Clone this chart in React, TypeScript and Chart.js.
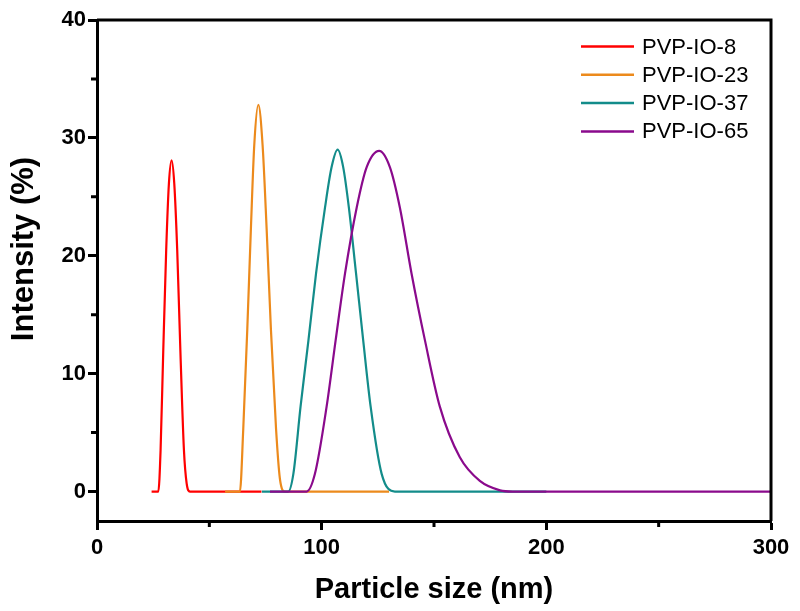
import React, { useEffect, useRef } from "react";
import { Chart, registerables } from "chart.js";

Chart.register(...registerables);

// Particle size (nm) and intensity (%)
const sizesIO8 = [24.3, 27.3, 28.3, 29.5, 30.8, 32.0, 33.2, 34.4, 35.7, 37.1, 38.7, 39.9, 41.4, 73.2];
const intensityIO8 = [0, 0, 3.5, 12.0, 20.5, 26.1, 28.1, 26.1, 20.5, 12.0, 3.5, 0.7, 0, 0];

const sizesIO23 = [57, 63.6, 65.1, 66.9, 68.5, 70.0, 71.8, 73.7, 75.5, 77.4, 79.7, 81.4, 83.7, 130];
const intensityIO23 = [0, 0, 5.3, 13.8, 22.3, 29.4, 32.8, 29.4, 22.3, 13.8, 5.3, 1.1, 0, 0];

const sizesIO37 = [73.4, 85.1, 87.4, 90.6, 94.1, 97.5, 101.5, 104.4, 107.1, 109.6, 112.1, 115.3, 118.5, 121.8, 126.7, 132.6, 200];
const intensityIO37 = [0, 0, 1.5, 7.2, 12.8, 18.5, 24.1, 27.5, 29.0, 27.5, 24.1, 18.5, 12.8, 7.2, 1.5, 0, 0];

const sizesIO65 = [77, 93.3, 97.0, 102.2, 106.2, 110.4, 115.6, 120.0, 125.6, 130.4, 134.8, 140.0, 146.0, 152.6, 161.5, 170.4, 179.4, 185, 300];
const intensityIO65 = [0, 0, 1.5, 7.2, 12.8, 18.5, 24.1, 27.5, 28.9, 27.5, 24.1, 18.5, 12.8, 7.2, 2.9, 0.9, 0.1, 0, 0];

const seriesLabels = ["PVP-IO-8", "PVP-IO-23", "PVP-IO-37", "PVP-IO-65"];
const seriesColors = ["#FF0000", "#EC8A1C", "#138C8A", "#8A0A8C"];

const xMajorTicks = [0, 100, 200, 300];
const xMinorTicks = [50, 150, 250];
const yMajorTicks = [0, 10, 20, 30, 40];
const yMinorTicks = [5, 15, 25, 35];

const xTitle = "Particle size (nm)";
const yTitle = "Intensity (%)";

const FONT = "'Liberation Sans', Arial, sans-serif";

const toPoints = (xs: number[], ys: number[]) => xs.map((x, i) => ({ x, y: ys[i] }));

const decorPlugin = {
  id: "decor",
  afterDraw(chart: any) {
    const { ctx, chartArea } = chart;
    const xs = chart.scales.x;
    const ys = chart.scales.y;
    ctx.save();
    ctx.strokeStyle = "#000";
    ctx.lineWidth = 3;
    // frame top and right
    ctx.beginPath();
    ctx.moveTo(chartArea.left, chartArea.top);
    ctx.lineTo(chartArea.right, chartArea.top);
    ctx.lineTo(chartArea.right, chartArea.bottom);
    ctx.stroke();
    // minor ticks
    ctx.beginPath();
    for (const v of xMinorTicks) {
      const px = xs.getPixelForValue(v);
      ctx.moveTo(px, chartArea.bottom);
      ctx.lineTo(px, chartArea.bottom + 6);
    }
    for (const v of yMinorTicks) {
      const py = ys.getPixelForValue(v);
      ctx.moveTo(chartArea.left, py);
      ctx.lineTo(chartArea.left - 6, py);
    }
    ctx.stroke();

    // axis titles
    ctx.fillStyle = "#000";
    ctx.font = `bold 29px ${FONT}`;
    ctx.textAlign = "center";
    ctx.textBaseline = "middle";
    ctx.fillText(xTitle, (chartArea.left + chartArea.right) / 2, 590);
    ctx.font = `bold 31px ${FONT}`;
    ctx.translate(24, 249);
    ctx.rotate(-Math.PI / 2);
    ctx.fillText(yTitle, 0, 0);
    ctx.restore();

    // legend
    ctx.save();
    ctx.font = `22px ${FONT}`;
    ctx.textAlign = "left";
    ctx.textBaseline = "middle";
    chart.data.datasets.forEach((ds: any, i: number) => {
      const y = 46.5 + i * 28.3;
      ctx.strokeStyle = ds.borderColor;
      ctx.lineWidth = 2.5;
      ctx.beginPath();
      ctx.moveTo(581, y);
      ctx.lineTo(634, y);
      ctx.stroke();
      ctx.fillStyle = "#000";
      ctx.fillText(ds.label, 642, y + 1);
    });
    ctx.restore();
  },
};

export default function App() {
  const ref = useRef<HTMLCanvasElement>(null);
  useEffect(() => {
    if (!ref.current) return;
    const seriesX = [sizesIO8, sizesIO23, sizesIO37, sizesIO65];
    const seriesY = [intensityIO8, intensityIO23, intensityIO37, intensityIO65];
    const chart = new Chart(ref.current, {
      type: "line",
      data: {
        datasets: seriesLabels.map((label, i) => ({
          label,
          data: toPoints(seriesX[i], seriesY[i]),
          borderColor: seriesColors[i],
          backgroundColor: seriesColors[i],
          borderWidth: 2.2,
          pointRadius: 0,
          cubicInterpolationMode: "monotone" as const,
          order: seriesLabels.length - i,
        })),
      },
      options: {
        animation: false,
        responsive: false,
        layout: { padding: { top: 20, right: 29, left: 0, bottom: 0 } },
        plugins: { legend: { display: false }, tooltip: { enabled: false } },
        scales: {
          x: {
            type: "linear",
            min: 0,
            max: 300,
            afterBuildTicks: (s: any) => {
              s.ticks = xMajorTicks.map((v) => ({ value: v }));
            },
            afterFit: (s: any) => {
              s.height = 90;
            },
            grid: { drawOnChartArea: false, tickLength: 9, tickWidth: 3, tickColor: "#000" },
            border: { display: true, width: 3, color: "#000" },
            ticks: {
              color: "#000",
              font: { family: FONT, size: 22, weight: "bold" },
              padding: 5,
              maxRotation: 0,
            },
          },
          y: {
            type: "linear",
            min: -2.5,
            max: 40,
            afterBuildTicks: (s: any) => {
              s.ticks = yMajorTicks.map((v) => ({ value: v }));
            },
            afterFit: (s: any) => {
              s.width = 97;
            },
            grid: { drawOnChartArea: false, tickLength: 9, tickWidth: 3, tickColor: "#000" },
            border: { display: true, width: 3, color: "#000" },
            ticks: {
              color: "#000",
              font: { family: FONT, size: 22, weight: "bold" },
              padding: 2,
            },
          },
        },
      },
      plugins: [decorPlugin],
    });
    return () => chart.destroy();
  }, []);
  return (
    <div style={{ position: "absolute", left: 0, top: 0, width: 800, height: 611, background: "#fff" }}>
      <canvas ref={ref} width={800} height={611} style={{ display: "block" }} />
    </div>
  );
}
